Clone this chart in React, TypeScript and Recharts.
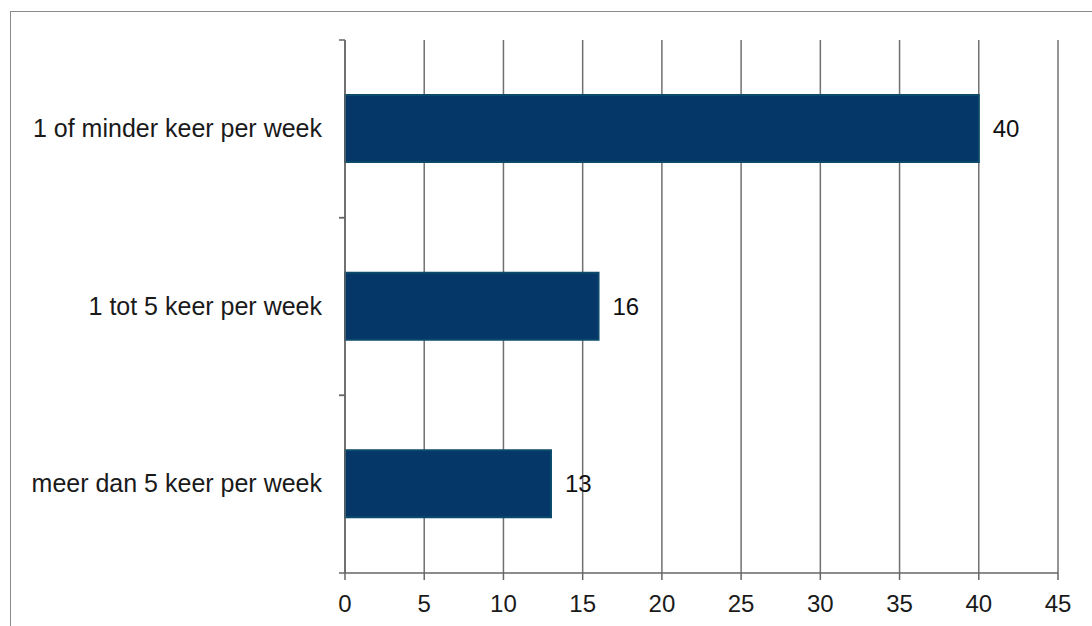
import { BarChart, Bar, XAxis, YAxis, CartesianGrid, LabelList } from 'recharts';

const categories = ['1 of minder keer per week', '1 tot 5 keer per week', 'meer dan 5 keer per week'];
const counts = [40, 16, 13];
const xTicks = [0, 5, 10, 15, 20, 25, 30, 35, 40, 45];

const data = categories.map((name, i) => ({ name, count: counts[i] }));

const W = 1092;
const H = 626;
const margin = { top: 40, right: 34, bottom: 0, left: 0 };
const xAxisHeight = 53;
const yAxisWidth = 345;
const band = (H - margin.top - margin.bottom - xAxisHeight) / categories.length;

const CategoryTick = (props: any) => {
    const { x, y, payload } = props;
    const axisX = yAxisWidth;
    return (
        <g>
            <line x1={axisX - 6} x2={axisX} y1={y - band / 2} y2={y - band / 2} stroke="#666" strokeWidth={1.5} />
            <line x1={axisX - 6} x2={axisX} y1={y + band / 2} y2={y + band / 2} stroke="#666" strokeWidth={1.5} />
            <text x={x} y={y} dy={8} textAnchor="end" fill="#1a1a1a" fontSize={25}>
                {payload.value}
            </text>
        </g>
    );
};

export default function App() {
    return (
        <div style={{ position: 'absolute', left: 0, top: 0, width: W, height: H, background: '#fff', fontFamily: '"Liberation Sans", Arial, sans-serif' }}>
            <div style={{ position: 'absolute', left: 10, top: 11, width: 1090, height: 630, borderLeft: '1.5px solid #8a8a8a', borderTop: '1.5px solid #8a8a8a' }} />
            <BarChart
                width={W}
                height={H}
                data={data}
                layout="vertical"
                margin={margin}
                barCategoryGap={0}
                style={{ position: 'absolute', left: 0, top: 0 }}
            >
                <CartesianGrid horizontal={false} stroke="#707070" strokeWidth={1.5} />
                <XAxis
                    type="number"
                    domain={[0, 45]}
                    ticks={xTicks}
                    interval={0}
                    height={xAxisHeight}
                    axisLine={{ stroke: '#666', strokeWidth: 1.5 }}
                    tickLine={{ stroke: '#666', strokeWidth: 1.5 }}
                    tickSize={7}
                    tickMargin={15}
                    tick={{ fill: '#1a1a1a', fontSize: 24 }}
                />
                <YAxis
                    type="category"
                    dataKey="name"
                    width={yAxisWidth}
                    axisLine={{ stroke: '#666', strokeWidth: 1.5 }}
                    tickLine={false}
                    tickSize={6}
                    tickMargin={17}
                    tick={<CategoryTick />}
                />
                <Bar dataKey="count" fill="#053768" stroke="#0b4a6a" strokeWidth={2} barSize={67} isAnimationActive={false}>
                    <LabelList dataKey="count" position="right" offset={14} fill="#111" fontSize={24} />
                </Bar>
            </BarChart>
        </div>
    );
}
